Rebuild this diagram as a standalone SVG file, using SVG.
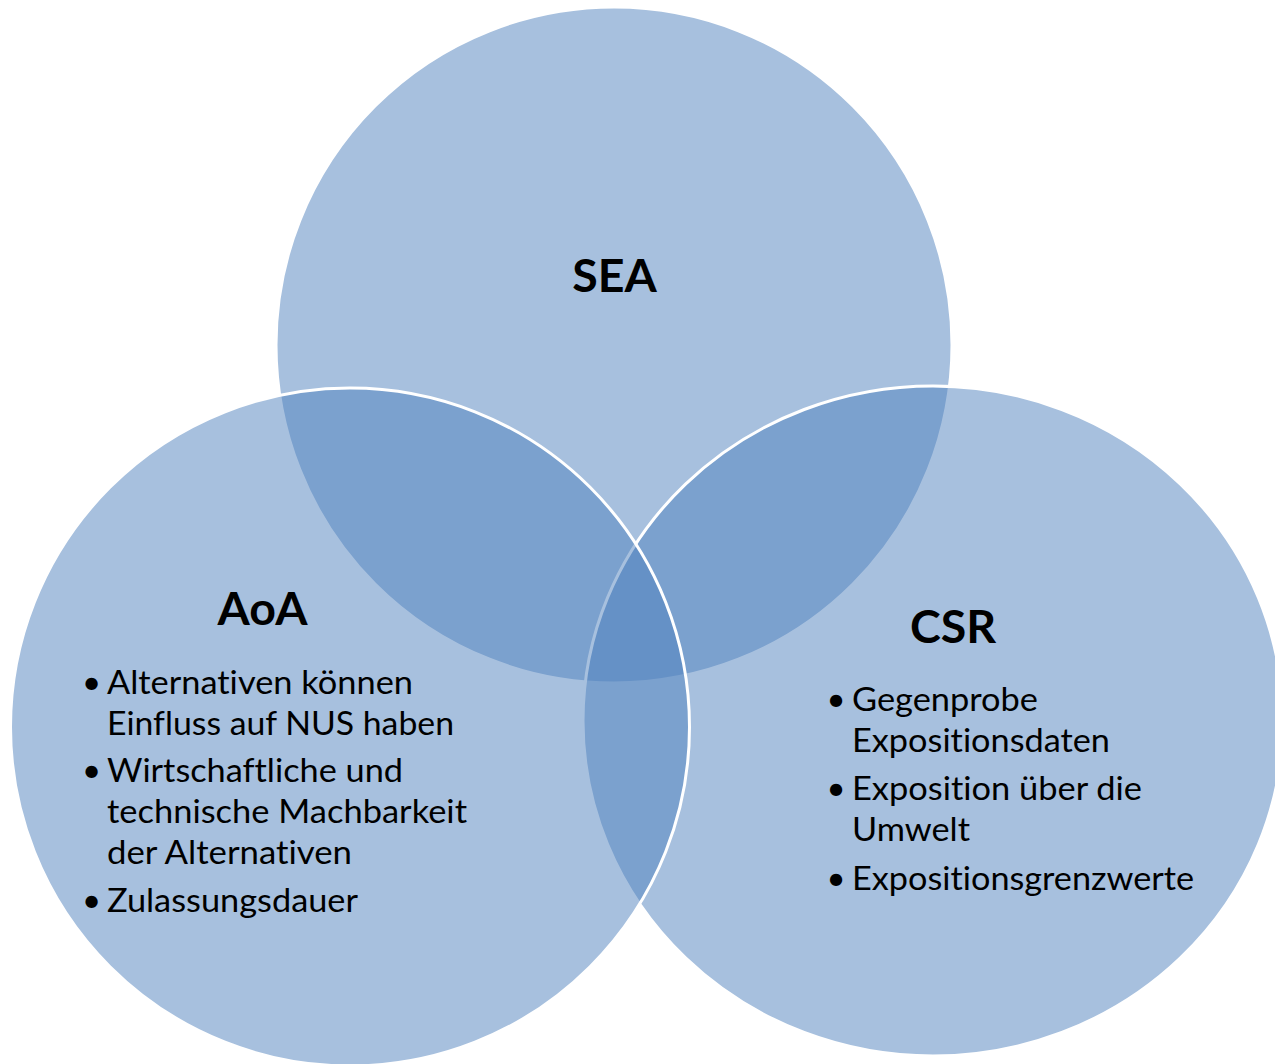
<svg xmlns="http://www.w3.org/2000/svg" width="1275" height="1064" viewBox="0 0 1275 1064">
  <style>
    .set { fill: #4F81BD; fill-opacity: 0.5; stroke: #FFFFFF; stroke-width: 3; }
    .title { font-family: Lato, "Liberation Sans", sans-serif; font-weight: bold; font-size: 46.5px; fill: #000000; text-anchor: middle; }
    .item { font-family: Lato, "Liberation Sans", sans-serif; font-size: 33px; fill: #000000; font-variant-ligatures: none; }
    .bullet { font-family: Lato, "Liberation Sans", sans-serif; font-size: 33px; fill: #000000; text-anchor: middle; }
  </style>
  <rect x="0" y="0" width="1275" height="1064" fill="#FFFFFF"/>
  <g id="node-sea">
    <ellipse class="set" cx="614" cy="345" rx="338" ry="338"/>
    <text class="title" x="614.5" y="292">SEA</text>
  </g>
  <g id="node-csr">
    <ellipse class="set" cx="933" cy="721" rx="350" ry="335"/>
    <text class="title" x="953" y="643">CSR</text>
    <text class="bullet" x="836" y="711">•</text>
    <text class="item" x="852" y="711" textLength="186" lengthAdjust="spacingAndGlyphs">Gegenprobe</text>
    <text class="item" x="852" y="752" textLength="258" lengthAdjust="spacingAndGlyphs">Expositionsdaten</text>
    <text class="bullet" x="836" y="800">•</text>
    <text class="item" x="852" y="800" textLength="290" lengthAdjust="spacingAndGlyphs">Exposition über die</text>
    <text class="item" x="852" y="841" textLength="118" lengthAdjust="spacingAndGlyphs">Umwelt</text>
    <text class="bullet" x="836" y="890">•</text>
    <text class="item" x="852" y="890" textLength="342" lengthAdjust="spacingAndGlyphs">Expositionsgrenzwerte</text>
  </g>
  <g id="node-aoa">
    <ellipse class="set" cx="350" cy="727" rx="339.5" ry="339"/>
    <text class="title" x="262.5" y="625">AoA</text>
    <text class="bullet" x="91.5" y="694">•</text>
    <text class="item" x="107" y="694" textLength="306" lengthAdjust="spacingAndGlyphs">Alternativen können</text>
    <text class="item" x="107" y="735" textLength="347" lengthAdjust="spacingAndGlyphs">Einfluss auf NUS haben</text>
    <text class="bullet" x="91.5" y="782">•</text>
    <text class="item" x="107" y="782" textLength="296" lengthAdjust="spacingAndGlyphs">Wirtschaftliche und</text>
    <text class="item" x="107" y="823" textLength="360" lengthAdjust="spacingAndGlyphs">technische Machbarkeit</text>
    <text class="item" x="107" y="864" textLength="245" lengthAdjust="spacingAndGlyphs">der Alternativen</text>
    <text class="bullet" x="91.5" y="912">•</text>
    <text class="item" x="107" y="912" textLength="251" lengthAdjust="spacingAndGlyphs">Zulassungsdauer</text>
  </g>
  <g id="connectors"/>
</svg>
